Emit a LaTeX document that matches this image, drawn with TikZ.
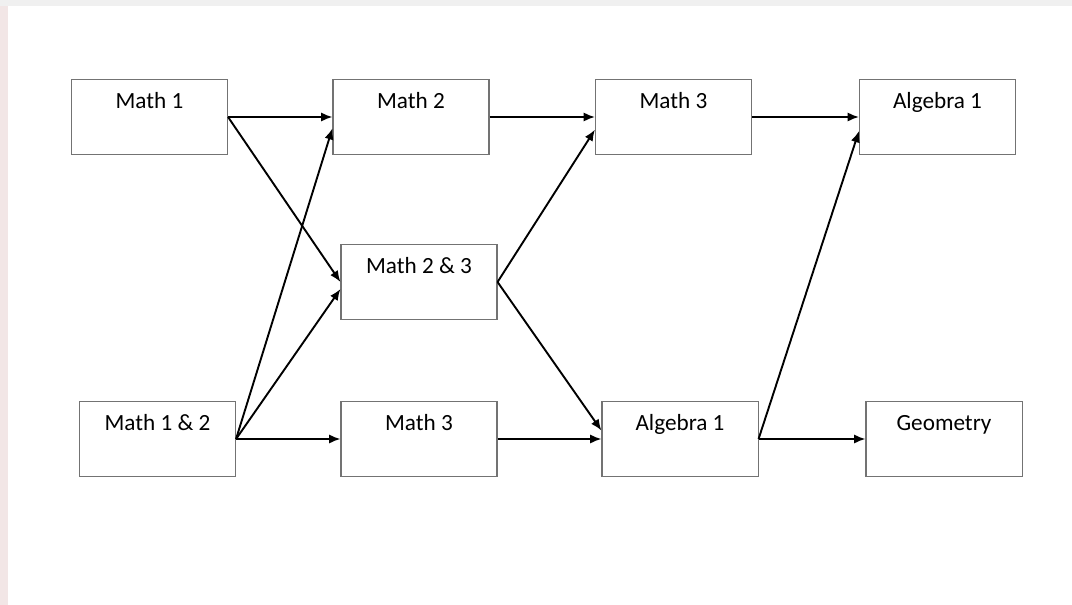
\documentclass[tikz,border=0pt]{standalone}
\usepackage{fontspec}
\setmainfont{Carlito}
\definecolor{boxgray}{RGB}{115, 115, 115}
\definecolor{pagegray}{RGB}{240, 240, 240}
\definecolor{edgepink}{RGB}{242, 230, 230}
\usetikzlibrary{arrows.meta, positioning, calc}

\begin{document}
\begin{tikzpicture}[
  x=0.025cm, y=-0.025cm,
  course/.style={draw=boxgray, line width=0.75pt, fill=white, minimum width=3.9cm,
    inner ysep=0.2cm, text height=0.525cm, text depth=0.95cm,
    font=\fontsize{16.5}{19}\selectfont},
  edge/.style={-{Latex[length=8pt, width=6.5pt]}, line width=1.35pt}
]
  % Page
  \fill[pagegray] (0, 0) rectangle (1072, 605);
  \fill[edgepink] (0, 6) rectangle (8, 605);
  \fill[white] (8, 6) rectangle (1072, 605);
  \useasboundingbox (0, 0) rectangle (1072, 605);

  % Column 1
  \node[course] (m1) at (149.5, 117) {Math 1};
  \node[course] (m12) at (157.5, 439) {Math 1 \& 2};

  % Column 2
  \node[course] (m2) at (411, 117) {Math 2};
  \node[course] (m23) at (419, 282) {Math 2 \& 3};
  \node[course] (m3b) at (419, 439) {Math 3};

  % Column 3
  \node[course] (m3t) at (673.5, 117) {Math 3};
  \node[course] (alg1b) at (680, 439) {Algebra 1};

  % Column 4
  \node[course] (alg1t) at (937.5, 117) {Algebra 1};
  \node[course] (geo) at (944, 439) {Geometry};

  % From column 1
  \draw[edge] (m1.east) -- (m2.west);
  \draw[edge] (m1.east) -- (m23.west);
  \draw[edge] (m12.east) -- ([yshift=-8]m2.west);
  \draw[edge] (m12.east) -- ([yshift=-5]m23.west);
  \draw[edge] (m12.east) -- (m3b.west);

  % From column 2
  \draw[edge] (m2.east) -- (m3t.west);
  \draw[edge] (m23.east) -- ([yshift=-9]m3t.west);
  \draw[edge] (m23.east) -- ([yshift=6]alg1b.west);
  \draw[edge] (m3b.east) -- (alg1b.west);

  % From column 3
  \draw[edge] (m3t.east) -- (alg1t.west);
  \draw[edge] (alg1b.east) -- ([yshift=-10]alg1t.west);
  \draw[edge] (alg1b.east) -- (geo.west);
\end{tikzpicture}
\end{document}
